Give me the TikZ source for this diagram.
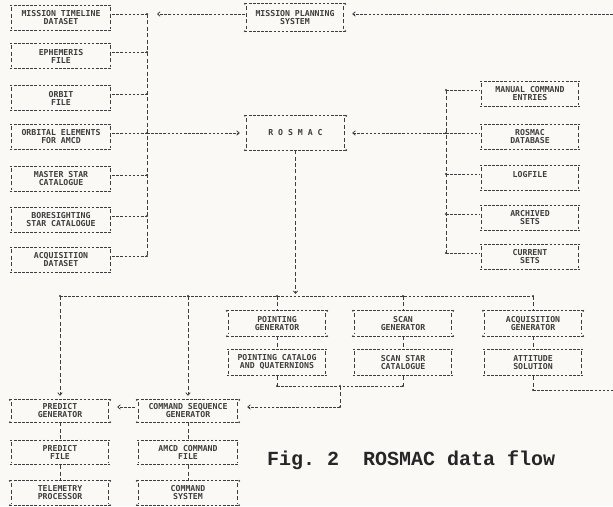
\documentclass[tikz,border=0pt]{standalone}
\usepackage{fontspec}
\newfontfamily\dotfont{DejaVu Sans Mono}
\newfontfamily\capfont{Liberation Mono}
\usetikzlibrary{arrows.meta,calc}
\definecolor{paper}{RGB}{250,249,245}
\definecolor{ink}{RGB}{62,62,62}
\begin{document}
\begin{tikzpicture}[x=1pt,y=-1pt,
  link/.style={draw=ink,line width=0.75pt,dash pattern=on 2.6pt off 1.5pt},
  vlink/.style={draw=ink,line width=0.75pt,dash pattern=on 4pt off 2.4pt},
  dbl/.style={draw=ink,line width=0.45pt,double=paper,double distance=0.8pt,dash pattern=on 2.6pt off 1.5pt},
  arr/.style={-{Straight Barb[length=2.6pt,width=4.5pt]}},
  box/.style={rectangle,inner sep=0pt,minimum width=102pt,minimum height=26pt,align=center,text=ink,font={\dotfont\bfseries\fontsize{8.2}{8}\selectfont}},
  filebox/.style={box,append after command={\pgfextra{\let\boxLN\tikzlastnode}
     (\boxLN.north west) edge[dbl] (\boxLN.north east)
     (\boxLN.south west) edge[dbl] (\boxLN.south east)
     ([xshift=2pt,yshift=-2.5pt]\boxLN.north west) edge[vlink] ([xshift=2pt,yshift=2.5pt]\boxLN.south west)
     ([xshift=-2pt,yshift=-2.5pt]\boxLN.north east) edge[vlink] ([xshift=-2pt,yshift=2.5pt]\boxLN.south east)}},
  procbox/.style={box,append after command={\pgfextra{\let\boxLN\tikzlastnode}
     (\boxLN.north west) edge[link] (\boxLN.north east)
     (\boxLN.south west) edge[link] (\boxLN.south east)
     ([xshift=2pt,yshift=-2.5pt]\boxLN.north west) edge[vlink] ([xshift=2pt,yshift=2.5pt]\boxLN.south west)
     ([xshift=-2pt,yshift=-2.5pt]\boxLN.north east) edge[vlink] ([xshift=-2pt,yshift=2.5pt]\boxLN.south east)}},
]
\fill[paper] (0,0) rectangle (613,506);
\useasboundingbox (0,0) rectangle (613,506);

% left column
\node[filebox] (mt)  at (61,18)  {MISSION TIMELINE\\DATASET};
\node[filebox] (eph) at (61,56)  {EPHEMERIS\\FILE};
\node[filebox] (orb) at (61,98)  {ORBIT\\FILE};
\node[filebox] (oel) at (61,137) {ORBITAL ELEMENTS\\FOR AMCD};
\node[filebox] (mst) at (61,179) {MASTER STAR\\CATALOGUE};
\node[filebox] (bst) at (61,220) {BORESIGHTING\\STAR CATALOGUE};
\node[filebox] (ads) at (61,260) {ACQUISITION\\DATASET};

% centre
\node[procbox,minimum width=100pt,minimum height=27pt] (mps) at (295,17.5) {MISSION PLANNING\\SYSTEM};
\node[procbox,minimum width=101pt,minimum height=34pt] (ros) at (295.5,133) {R O S M A C};

% right column
\node[filebox,minimum width=100pt] (mce) at (530,94)  {MANUAL COMMAND\\ENTRIES};
\node[filebox,minimum width=100pt] (rdb) at (530,137) {ROSMAC\\DATABASE};
\node[filebox,minimum width=100pt] (log) at (530,178) {LOGFILE\\\mbox{}};
\node[filebox,minimum width=100pt] (arc) at (530,218) {ARCHIVED\\SETS};
\node[filebox,minimum width=100pt] (cur) at (530,257) {CURRENT\\SETS};

% generators
\node[procbox,minimum width=100pt,minimum height=25pt] (pgn) at (277,323.5) {POINTING\\GENERATOR};
\node[filebox,minimum width=100pt,minimum height=27pt] (pct) at (277,362.5) {POINTING CATALOG\\AND QUATERNIONS};
\node[procbox,minimum width=100pt,minimum height=25pt] (sgn) at (403,323.5) {SCAN\\GENERATOR};
\node[filebox,minimum width=100pt,minimum height=27pt] (sct) at (403,362.5) {SCAN STAR\\CATALOGUE};
\node[procbox,minimum width=100pt,minimum height=25pt] (agn) at (533,323.5) {ACQUISITION\\GENERATOR};
\node[filebox,minimum width=100pt,minimum height=27pt] (att) at (533,362.5) {ATTITUDE\\SOLUTION};

% bottom
\node[procbox,minimum width=100pt,minimum height=22pt] (prg) at (60,411)   {PREDICT\\GENERATOR};
\node[filebox,minimum width=100pt,minimum height=25pt] (prf) at (60,452.5) {PREDICT\\FILE};
\node[procbox,minimum width=100pt,minimum height=24pt] (tel) at (60,493)   {TELEMETRY\\PROCESSOR};
\node[procbox,minimum height=22pt] (csg) at (188,411)   {COMMAND SEQUENCE\\GENERATOR};
\node[filebox,minimum height=25pt] (amc) at (188,452.5) {AMCD COMMAND\\FILE};
\node[procbox,minimum height=24pt] (csy) at (188,493)   {COMMAND\\SYSTEM};

% junction coordinates
\coordinate (jmt)  at (147,14);
\coordinate (jeph) at (147,52);
\coordinate (jorb) at (147,94);
\coordinate (joel) at (147,133);
\coordinate (jmst) at (147,175);
\coordinate (jbst) at (147,216);
\coordinate (jads) at (147,256);
\coordinate (mpsin) at (157,14);
\coordinate (edgeT) at (613,14);
\coordinate (jmce) at (446,90);
\coordinate (jrdb) at (446,133);
\coordinate (jlog) at (446,174);
\coordinate (jarc) at (446,214);
\coordinate (jcur) at (446,253);
\coordinate (jros) at (295.5,294);
\coordinate (dl)  at (60,296);
\coordinate (dcs) at (188,296);
\coordinate (dpg) at (277,296);
\coordinate (dsg) at (403,296);
\coordinate (dr)  at (533,296);
\coordinate (jl) at (277,386);
\coordinate (jr) at (403,386);
\coordinate (jm) at (340,386);
\coordinate (jturn) at (340,407);
\coordinate (jatt) at (533,390);
\coordinate (edgeB) at (613,390);

% left bus
\draw[vlink] (jmt) -- (jads);
\foreach \n/\j in {mt/jmt,eph/jeph,orb/jorb,oel/joel,mst/jmst,bst/jbst,ads/jads}
  \draw[link] ([yshift=4pt]\n.east) -- (\j);
\draw[link,arr] ([yshift=3.5pt]mps.west) -- (mpsin);
\draw[link,arr] (edgeT) -- ([xshift=7pt,yshift=3.5pt]mps.east);
\draw[link,arr] (joel) -- ([xshift=-5pt]ros.west);

% right bus
\draw[vlink] (jmce) -- (jcur);
\foreach \n/\j in {mce/jmce,rdb/jrdb,log/jlog,arc/jarc,cur/jcur}
  \draw[link] (\j) -- ([yshift=4pt]\n.west);
\draw[link,arr] (jrdb) -- ([xshift=6pt]ros.east);

% distribution
\draw[vlink,arr] (ros.south) -- (jros);
\draw[link] (dl) -- (dr);
\draw[vlink,arr,shorten >=4pt] (dl) -- (prg.north);
\draw[vlink,arr,shorten >=4pt] (dcs) -- (csg.north);
\draw[vlink] (dpg) -- (pgn.north);
\draw[vlink] (dsg) -- (sgn.north);
\draw[vlink] (dr) -- (agn.north);
\draw[vlink] (pgn.south) -- (pct.north);
\draw[vlink] (sgn.south) -- (sct.north);
\draw[vlink] (agn.south) -- (att.north);

% joins
\draw[vlink] (pct.south) -- (jl);
\draw[vlink] (sct.south) -- (jr);
\draw[link] (jl) -- (jr);
\draw[vlink] (jm) -- (jturn);
\draw[link,arr] (jturn) -- ([xshift=8pt,yshift=4pt]csg.east);
\draw[vlink] (att.south) -- (jatt);
\draw[link] (jatt) -- (edgeB);

% bottom chains
\draw[link,arr,shorten <=2pt] ([yshift=4pt]csg.west) -- ([xshift=7pt,yshift=4pt]prg.east);
\draw[vlink] (prg.south) -- (prf.north);
\draw[vlink] (prf.south) -- (tel.north);
\draw[vlink] (csg.south) -- (amc.north);
\draw[vlink] (amc.south) -- (csy.north);

% star marks
\foreach \p in {jmt,jeph,jorb,joel,jmst,jbst,jads,jmce,jrdb,jlog,jarc,jcur,dl,dcs,dpg,dsg,dr,jl,jr,jm,jturn,jatt}
  \fill[ink] (\p) circle[radius=1.1pt];
\foreach \n in {mps,ros,pgn,sgn,agn,prg,tel,csg,csy}
  \foreach \a in {north west,north east,south west,south east}
    \fill[ink] (\n.\a) circle[radius=1pt];

% caption
\node[anchor=base west,inner sep=0pt,text=black!85,font={\capfont\bfseries\fontsize{20}{20}\selectfont}] (cap) at (267,465) {Fig.\ 2\ \ ROSMAC data flow};
\end{tikzpicture}
\end{document}
